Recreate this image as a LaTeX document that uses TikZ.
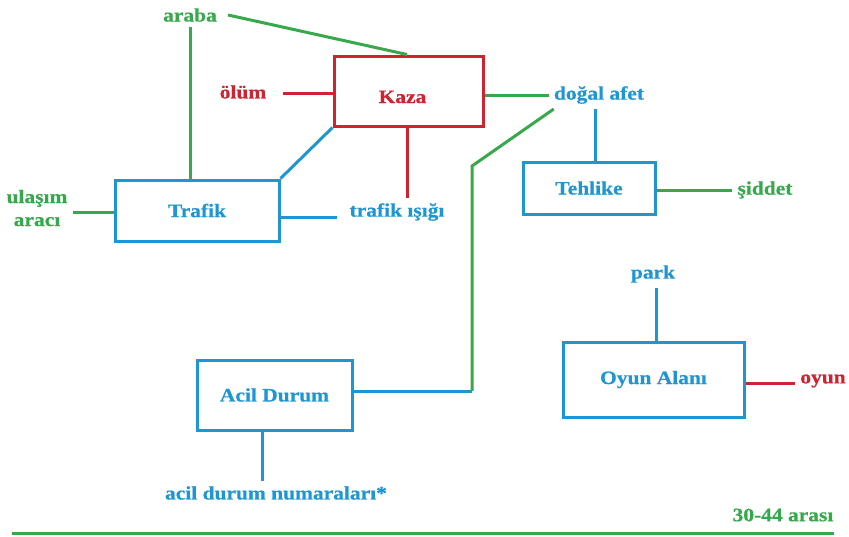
\documentclass[tikz,border=0pt]{standalone}
\usepackage{fontspec}
\setmainfont{Liberation Serif}[BoldFeatures={FakeStretch=1.13,FakeBold=0.6}]
\definecolor{cgreen}{RGB}{56,168,76}
\definecolor{cblue}{RGB}{30,150,210}
\definecolor{cred}{RGB}{204,36,48}
\begin{document}
\begin{tikzpicture}[x=1pt,y=-1pt,
  txt/.style={font=\fontsize{19}{21}\selectfont\bfseries, inner sep=5pt},
  box/.style={draw, line width=3pt, font=\fontsize{19}{21}\selectfont\bfseries, inner sep=0pt},
  gl/.style={draw=cgreen, line width=3pt},
  bl/.style={draw=cblue, line width=3pt},
  rl/.style={draw=cred, line width=3pt}]
\useasboundingbox (0,0) rectangle (849,536);
% boxes
\node[box, draw=cred, text=cred, minimum width=149, minimum height=70] (kaza) at (408.5,91) {\hspace*{-12pt}\raisebox{-12pt}[0pt][0pt]{Kaza}};
\node[box, draw=cblue, text=cblue, minimum width=164, minimum height=61] (trafik) at (197,210.5) {Trafik};
\node[box, draw=cblue, text=cblue, minimum width=132, minimum height=52] (tehlike) at (589,188) {Tehlike};
\node[box, draw=cblue, text=cblue, minimum width=155, minimum height=70] (acil) at (274.5,395) {Acil Durum};
\node[box, draw=cblue, text=cblue, minimum width=181, minimum height=75] (alan) at (653.5,379.5) {Oyun Alanı};
% labels
\node[txt, text=cgreen] (araba) at (190,15) {araba};
\node[txt, text=cred] (olum) at (243,92) {ölüm};
\node[txt, text=cblue] (isigi) at (397,212) {trafik ışığı};
\node[txt, text=cgreen, align=center] (ulasim) at (37,208) {ulaşım\\[2pt]aracı};
\node[txt, text=cblue] (dogal) at (599,95) {doğal afet};
\node[txt, text=cgreen] (siddet) at (765,190) {şiddet};
\node[txt, text=cblue] (numara) at (276,493) {acil durum numaraları*};
\node[txt, text=cblue] (park) at (653,274) {park};
\node[txt, text=cred] (oyun) at (823,381) {oyun};
\node[txt, text=cgreen] (aralik) at (783,515) {30-44 arası};
% connectors
\coordinate (bend) at (472,166);
\coordinate (joint) at (472,391);
\draw[gl] ([xshift=6pt]araba.east) -- ([xshift=-1.5pt]kaza.north);
\draw[gl] (araba.south) -- (araba.south |- trafik.north);
\draw[rl] ([xshift=12pt]olum.east |- 0,93) -- (kaza.west |- 0,93);
\draw[bl] (trafik.north east) -- (kaza.south west);
\draw[rl] ([xshift=-1.5pt]kaza.south) -- ([xshift=-1.5pt]kaza.south |- isigi.north);
\draw[bl] (trafik.east |- 0,217) -- ([xshift=-7pt]isigi.west |- 0,217);
\draw[gl] (ulasim.east |- 0,212) -- (trafik.west |- 0,212);
\draw[gl] (kaza.east |- 0,95) -- (dogal.west |- 0,95);
\draw[gl] ([xshift=5pt]dogal.south west) -- (bend) -- (joint);
\draw[bl] (acil.east |- joint) -- (joint);
\draw[bl] ([xshift=6pt]tehlike.north) -- ([xshift=6pt]tehlike.north |- dogal.south);
\draw[gl] (tehlike.east |- 0,190) -- (siddet.west |- 0,190);
\draw[bl] ([xshift=-12pt]acil.south) -- ([xshift=-12pt]acil.south |- numara.north);
\draw[bl] ([xshift=2.5pt]alan.north) -- ([xshift=2.5pt]alan.north |- park.south);
\draw[rl] (alan.east |- 0,383) -- (oyun.west |- 0,383);
\draw[gl] (12,533) -- (834,533);
\end{tikzpicture}
\end{document}
